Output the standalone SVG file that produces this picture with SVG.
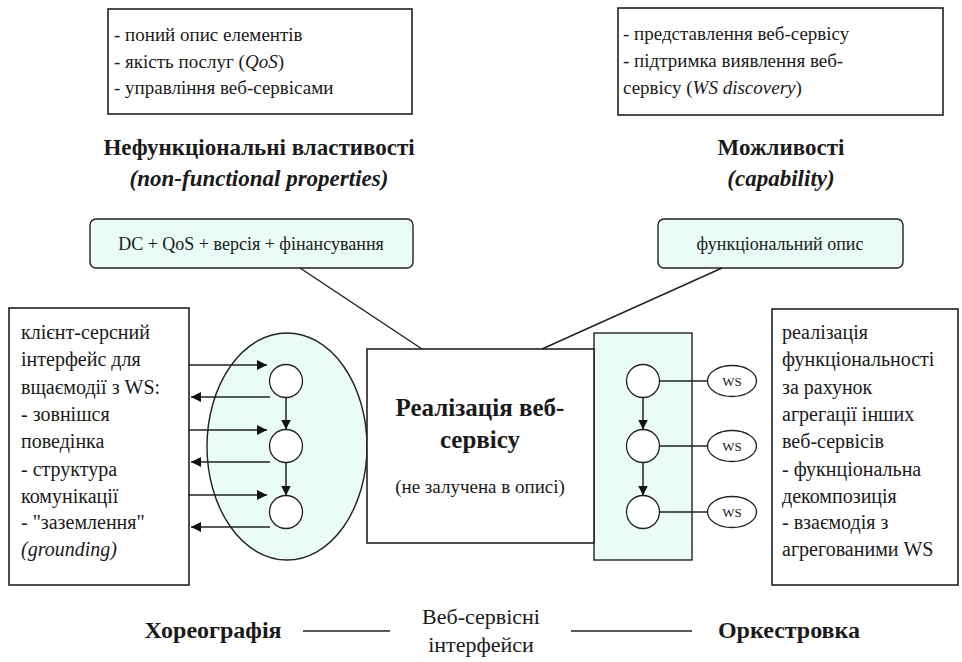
<svg xmlns="http://www.w3.org/2000/svg" width="962" height="662" viewBox="0 0 962 662" font-family="Liberation Serif, Times New Roman, serif">
<defs>
<style>
text{fill:#1a1a1a}
.t{font-size:20px}
.b{font-weight:bold}
.i{font-style:italic}
.box{fill:#fff;stroke:#222;stroke-width:1.6}
.teal{fill:#eafcf6;stroke:#222;stroke-width:1.4}
.c{fill:#fff;stroke:#222;stroke-width:1.3}
.ln{stroke:#222;stroke-width:1.5;fill:none}
</style>
<marker id="ah" viewBox="0 0 10 10" refX="10" refY="5" markerWidth="10" markerHeight="10" markerUnits="userSpaceOnUse" orient="auto">
<path d="M0,0 L10,5 L0,10 z" fill="#111"/>
</marker>
</defs>
<rect width="962" height="662" fill="#fff"/>

<g id="nonfunc-box">
<rect class="box" x="108" y="9" width="304" height="105"/>
<text x="114" y="41" font-size="19">- поний опис елементів</text>
<text x="114" y="68" font-size="19">- якість послуг (<tspan class="i">QoS</tspan>)</text>
<text x="114" y="94" font-size="19">- управління веб-сервісами</text>
</g>
<g id="capability-box">
<rect class="box" x="618" y="8" width="325" height="107"/>
<text x="623" y="40" font-size="19">- представлення веб-сервісу</text>
<text x="623" y="67" font-size="19">- підтримка виявлення веб-</text>
<text x="623" y="94" font-size="19">сервісу (<tspan class="i">WS discovery</tspan>)</text>
</g>

<g id="nonfunc-title">
<text class="b" x="259" y="155" font-size="23" text-anchor="middle">Нефункціональні властивості</text>
<text class="b i" x="259" y="186" font-size="23" text-anchor="middle">(non-functional properties)</text>
</g>
<g id="capability-title">
<text class="b" x="781" y="155" font-size="23" text-anchor="middle">Можливості</text>
<text class="b i" x="781" y="186" font-size="23" text-anchor="middle">(capability)</text>
</g>

<g id="nonfunc-desc">
<rect class="teal" x="90" y="219" width="323" height="49" rx="6"/>
<text x="251" y="250" font-size="18" text-anchor="middle">DC + QoS + версія + фінансування</text>
</g>
<g id="func-desc">
<rect class="teal" x="658" y="219" width="245" height="49" rx="6"/>
<text x="780" y="250" font-size="18" text-anchor="middle">функціональний опис</text>
</g>

<g id="choreography-ellipse">
<ellipse class="teal" cx="287" cy="446.5" rx="80" ry="113.5"/>
<circle class="c" cx="286" cy="381" r="16.5"/>
<circle class="c" cx="286" cy="446" r="16.5"/>
<circle class="c" cx="286" cy="512" r="16.5"/>
</g>

<g id="orchestration-rect">
<rect class="teal" x="594" y="333" width="98" height="227"/>
<circle class="c" cx="643" cy="381" r="16.5"/>
<circle class="c" cx="643" cy="446" r="16.5"/>
<circle class="c" cx="643" cy="512" r="16.5"/>
</g>

<g id="implementation">
<rect class="box" x="367" y="349" width="227" height="194"/>
<text class="b" x="480" y="416" font-size="25" text-anchor="middle">Реалізація веб-</text>
<text class="b" x="480" y="448" font-size="25" text-anchor="middle">сервісу</text>
<text x="480" y="493" font-size="19" text-anchor="middle">(не залучена в описі)</text>
</g>

<g id="ws1"><ellipse class="c" cx="732" cy="381" rx="24.5" ry="15.5"/><text x="732" y="386" font-size="13" text-anchor="middle">WS</text></g>
<g id="ws2"><ellipse class="c" cx="732" cy="446" rx="24.5" ry="15.5"/><text x="732" y="451" font-size="13" text-anchor="middle">WS</text></g>
<g id="ws3"><ellipse class="c" cx="732" cy="512" rx="24.5" ry="15.5"/><text x="732" y="517" font-size="13" text-anchor="middle">WS</text></g>

<g id="client-box">
<rect class="box" x="9" y="308" width="180" height="277"/>
<text class="t" x="21" y="339">клієнт-серсний</text>
<text class="t" x="21" y="366">інтерфейс для</text>
<text class="t" x="21" y="394">вщаємодії з WS:</text>
<text class="t" x="21" y="421">- зовнішся</text>
<text class="t" x="21" y="448">поведінка</text>
<text class="t" x="21" y="476">- структура</text>
<text class="t" x="21" y="503">комунікації</text>
<text class="t" x="21" y="529">- "заземлення"</text>
<text class="t i" x="21" y="556">(grounding)</text>
</g>

<g id="aggregation-box">
<rect class="box" x="772" y="309" width="186" height="276"/>
<text class="t" x="782" y="339">реалізація</text>
<text class="t" x="782" y="366">функціональності</text>
<text class="t" x="782" y="394">за рахунок</text>
<text class="t" x="782" y="421">агрегації інших</text>
<text class="t" x="782" y="448">веб-сервісів</text>
<text class="t" x="782" y="476">- фукнціональна</text>
<text class="t" x="782" y="503">декомпозиція</text>
<text class="t" x="782" y="529">- взаємодія з</text>
<text class="t" x="782" y="556">агрегованими WS</text>
</g>

<g id="connectors">
<line class="ln" x1="300" y1="268" x2="422" y2="349"/>
<line class="ln" x1="722" y1="268" x2="542" y2="349"/>
<line class="ln" x1="189" y1="365" x2="267" y2="365" marker-end="url(#ah)"/>
<line class="ln" x1="270" y1="397" x2="191" y2="397" marker-end="url(#ah)"/>
<line class="ln" x1="189" y1="430" x2="267" y2="430" marker-end="url(#ah)"/>
<line class="ln" x1="270" y1="462" x2="191" y2="462" marker-end="url(#ah)"/>
<line class="ln" x1="189" y1="495" x2="267" y2="495" marker-end="url(#ah)"/>
<line class="ln" x1="270" y1="527" x2="191" y2="527" marker-end="url(#ah)"/>
<line class="ln" x1="286" y1="397.5" x2="286" y2="429.5" marker-end="url(#ah)"/>
<line class="ln" x1="286" y1="462.5" x2="286" y2="495.5" marker-end="url(#ah)"/>
<line class="ln" x1="643" y1="397.5" x2="643" y2="429.5" marker-end="url(#ah)"/>
<line class="ln" x1="643" y1="462.5" x2="643" y2="495.5" marker-end="url(#ah)"/>
<line class="ln" x1="659.5" y1="381" x2="707.5" y2="381"/>
<line class="ln" x1="659.5" y1="446" x2="707.5" y2="446"/>
<line class="ln" x1="659.5" y1="512" x2="707.5" y2="512"/>
<line class="ln" x1="303" y1="631" x2="390" y2="631" stroke-width="2"/>
<line class="ln" x1="571" y1="631" x2="692" y2="631" stroke-width="2"/>
</g>

<g id="bottom-labels">
<text class="b" x="213" y="638" font-size="24" text-anchor="middle">Хореографія</text>
<text x="481" y="624" font-size="22" text-anchor="middle">Веб-сервісні</text>
<text x="481" y="652" font-size="22" text-anchor="middle">інтерфейси</text>
<text class="b" x="789" y="638" font-size="24" text-anchor="middle">Оркестровка</text>
</g>
</svg>
